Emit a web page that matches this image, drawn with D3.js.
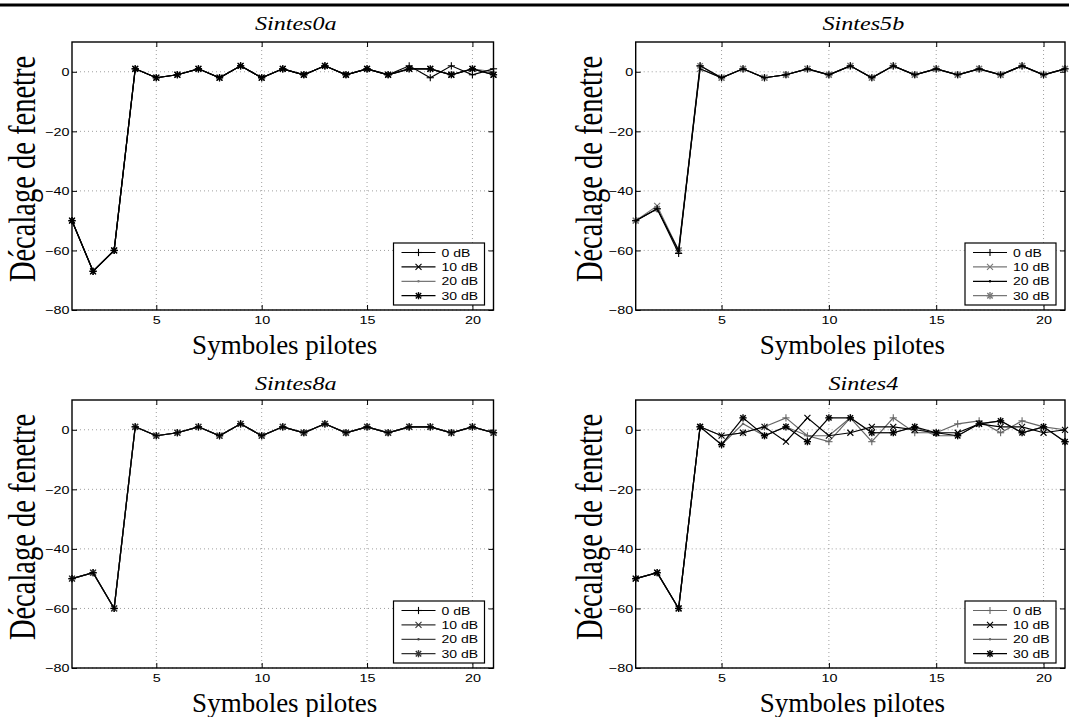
<!DOCTYPE html>
<html>
<head>
<meta charset="utf-8">
<script src="https://cdn.jsdelivr.net/npm/d3@7"></script>
<style>
  body { margin: 0; background: #fff; }
  svg { display: block; }
  .tick text { font-family: "Liberation Sans", Arial, sans-serif; font-size: 11.5px; fill: #000; }
  .axis path, .axis line { stroke: #000; }
</style>
</head>
<body>
<div id="chart"></div>
<script>
// symbol index on the x axis
var symbols = [1, 2, 3, 4, 5, 6, 7, 8, 9, 10, 11, 12, 13, 14, 15, 16, 17, 18, 19, 20, 21];
var snrLabels = ["0 dB", "10 dB", "20 dB", "30 dB"];
var xTicks = [5, 10, 15, 20];
var yTicks = [-80, -60, -40, -20, 0];
var panelNames = ["Sintes0a", "Sintes5b", "Sintes8a", "Sintes4"];

// window offset per SNR (0, 10, 20, 30 dB)
var sintes0a = [
  [-50, -67, -60, 1, -2, -1, 1, -2, 2, -2, 1, -1, 2, -1, 1, -1, 2, -2, 2, -1, 1],
  [-50, -67, -60, 1, -2, -1, 1, -2, 2, -2, 1, -1, 2, -1, 1, -1, 1, 1, -1, 1, -1],
  [-50, -67, -60, 1, -2, -1, 1, -2, 2, -2, 1, -1, 2, -1, 1, -1, 1, 1, -1, 1, 0],
  [-50, -67, -60, 1, -2, -1, 1, -2, 2, -2, 1, -1, 2, -1, 1, -1, 1, 1, -1, 1, -1]
];
var sintes5b = [
  [-50, -46, -61, 2, -2, 1, -2, -1, 1, -1, 2, -2, 2, -1, 1, -1, 1, -1, 2, -1, 1],
  [-50, -45, -60, 1, -2, 1, -2, -1, 1, -1, 2, -2, 2, -1, 1, -1, 1, -1, 2, -1, 1],
  [-50, -46, -60, 1, -2, 1, -2, -1, 1, -1, 2, -2, 2, -1, 1, -1, 1, -1, 2, -1, 1],
  [-50, -46, -60, 2, -2, 1, -2, -1, 1, -1, 2, -2, 2, -1, 1, -1, 1, -1, 2, -1, 1]
];
var sintes8a = [
  [-50, -48, -60, 1, -2, -1, 1, -2, 2, -2, 1, -1, 2, -1, 1, -1, 1, 1, -1, 1, -1],
  [-50, -48, -60, 1, -2, -1, 1, -2, 2, -2, 1, -1, 2, -1, 1, -1, 1, 1, -1, 1, -1],
  [-50, -48, -60, 1, -2, -1, 1, -2, 2, -2, 1, -1, 2, -1, 1, -1, 1, 1, -1, 1, -1],
  [-50, -48, -60, 1, -2, -1, 1, -2, 2, -2, 1, -1, 2, -1, 1, -1, 1, 1, -1, 1, -1]
];
var sintes4 = [
  [-50, -48, -60, 1, -2, -1, 1, 4, -2, -4, 4, -4, 4, -1, -1, 2, 3, -1, 3, 1, -4],
  [-50, -48, -60, 1, -2, -1, 1, -4, 4, -2, -1, 1, 1, 0, -1, -1, 2, 1, 1, -1, 0],
  [-50, -48, -60, 1, -5, 2, -2, 1, -2, -2, 4, -1, -1, 1, -2, -2, 2, 3, -1, 1, 0],
  [-50, -48, -60, 1, -5, 4, -2, 1, -4, 4, 4, -1, -1, 1, -1, -2, 2, 3, -1, 1, -4]
];
var panelData = [sintes0a, sintes5b, sintes8a, sintes4];

// line colour of each series, per panel
var panelColors = [
  ["#000", "#000", "#777", "#000"],
  ["#000", "#777", "#000", "#777"],
  ["#000", "#333", "#444", "#333"],
  ["#666", "#000", "#666", "#000"]
];
var markers = ["plus", "cross", "dot", "star"];

var W = 1069, H = 717;
var panelBoxes = [
  {left: 72, top: 42, right: 493.5},
  {left: 635.7, top: 42, right: 1065},
  {left: 72, top: 400, right: 493.5},
  {left: 635.7, top: 400, right: 1065}
];
var plotH = 268;
var stretch = 1.25;

var svg = d3.select("#chart").append("svg")
  .attr("width", W).attr("height", H);

svg.append("line")
  .attr("x1", 0).attr("x2", W).attr("y1", 5).attr("y2", 5)
  .attr("stroke", "#000").attr("stroke-width", 3);

function drawMarker(g, type, cx, cy, color) {
  var s = 3.6;
  var m = g.append("g").attr("transform", "translate(" + cx + "," + cy + ")")
    .attr("stroke", color).attr("stroke-width", type == "star" ? 1.4 : 1.1).attr("fill", "none");
  if (type == "plus" || type == "star") {
    m.append("line").attr("x1", -s).attr("x2", s).attr("y1", 0).attr("y2", 0);
    m.append("line").attr("x1", 0).attr("x2", 0).attr("y1", -s).attr("y2", s);
  }
  if (type == "cross" || type == "star") {
    var c = type == "star" ? 2.7 : 3;
    m.append("line").attr("x1", -c).attr("x2", c).attr("y1", -c).attr("y2", c);
    m.append("line").attr("x1", -c).attr("x2", c).attr("y1", c).attr("y2", -c);
  }
  if (type == "dot") {
    m.append("circle").attr("r", 1.2).attr("fill", color).attr("stroke", "none");
  }
}

panelBoxes.forEach(function(box, p) {
  var w = box.right - box.left;
  var x = d3.scaleLinear().domain([1, 21]).range([0, w]);
  var y = d3.scaleLinear().domain([-80, 10]).range([plotH, 0]);

  var chart = svg.append("g")
    .attr("transform", "translate(" + box.left + "," + box.top + ")");

  // grid
  chart.selectAll(".vgrid").data(xTicks).enter().append("line")
    .attr("x1", function(d) { return x(d); }).attr("x2", function(d) { return x(d); })
    .attr("y1", 0).attr("y2", plotH)
    .attr("stroke", "#888").attr("stroke-width", 0.8).attr("stroke-dasharray", "1,3");
  chart.selectAll(".hgrid").data(yTicks).enter().append("line")
    .attr("x1", 0).attr("x2", w)
    .attr("y1", function(d) { return y(d); }).attr("y2", function(d) { return y(d); })
    .attr("stroke", "#888").attr("stroke-width", 0.8).attr("stroke-dasharray", "1,3");

  // series: grey ones underneath, black ones on top
  var line = d3.line()
    .x(function(d, i) { return x(symbols[i]); })
    .y(function(d) { return y(d); });
  var series = panelData[p];
  var order = [0, 1, 2, 3].sort(function(a, b) {
    return (panelColors[p][a] == "#000") - (panelColors[p][b] == "#000") || a - b;
  });
  order.forEach(function(k) {
    var vals = series[k];
    var col = panelColors[p][k];
    chart.append("path").datum(vals)
      .attr("d", line).attr("fill", "none")
      .attr("stroke", col).attr("stroke-width", 1.2);
    var mg = chart.append("g");
    vals.forEach(function(v, i) {
      drawMarker(mg, markers[k], x(symbols[i]), y(v), col);
    });
  });

  // axes with inward ticks
  var xAxis = d3.axisBottom(x).tickValues(xTicks).tickSizeInner(-5).tickSizeOuter(0).tickPadding(6);
  var gx = chart.append("g").attr("class", "axis")
    .attr("transform", "translate(0," + plotH + ")").call(xAxis);
  gx.select(".domain").remove();
  gx.selectAll("text").attr("transform", "scale(" + stretch + ",1)");

  var xTop = d3.axisTop(x).tickValues(xTicks).tickSizeInner(-5).tickSizeOuter(0).tickFormat("");
  chart.append("g").attr("class", "axis").call(xTop).select(".domain").remove();

  var yAxis = d3.axisLeft(y).tickValues(yTicks).tickSizeInner(-5).tickSizeOuter(0).tickPadding(2)
    .tickFormat(function(d) { return d < 0 ? "\u2212" + Math.abs(d) : d; });
  var gy = chart.append("g").attr("class", "axis").call(yAxis);
  gy.select(".domain").remove();
  gy.selectAll("text").attr("transform", "scale(" + stretch + ",1)");

  var yRight = d3.axisRight(y).tickValues(yTicks).tickSizeInner(-5).tickSizeOuter(0).tickFormat("");
  chart.append("g").attr("class", "axis").attr("transform", "translate(" + w + ",0)")
    .call(yRight).select(".domain").remove();

  chart.append("rect")
    .attr("x", 0).attr("y", 0).attr("width", w).attr("height", plotH)
    .attr("fill", "none").attr("stroke", "#000").attr("stroke-width", 1.4);

  // title
  chart.append("text")
    .attr("transform", "translate(" + (w / 2 + 13) + "," + (p < 2 ? -12 : -10) + ") scale(1.27,1)")
    .attr("text-anchor", "middle")
    .style("font-family", "'Liberation Serif', 'Times New Roman', serif")
    .style("font-style", "italic").style("font-size", "19px")
    .text(panelNames[p]);

  // axis titles
  chart.append("text")
    .attr("x", w / 2 + 2).attr("y", plotH + 44)
    .attr("text-anchor", "middle")
    .style("font-family", "'Liberation Serif', 'Times New Roman', serif")
    .style("font-size", "27px")
    .text("Symboles pilotes");

  chart.append("text")
    .attr("transform", "translate(" + (p % 2 == 0 ? -37 : -34) + "," + 127 + ") rotate(-90) scale(1," + 1.3 + ")")
    .attr("text-anchor", "middle")
    .style("font-family", "'Liberation Serif', 'Times New Roman', serif")
    .style("font-size", "28.5px")
    .text("D\u00e9calage de fenetre");

  // legend
  var lw = 91, lh = 62;
  var legend = chart.append("g")
    .attr("transform", "translate(" + (w - 9 - lw) + "," + (plotH - 5 - lh) + ")");
  legend.append("rect").attr("width", lw).attr("height", lh)
    .attr("fill", "#fff").attr("stroke", "#000").attr("stroke-width", 1.2);
  snrLabels.forEach(function(lab, k) {
    var ly = 9.5 + k * 14.4;
    var col = panelColors[p][k];
    legend.append("line").attr("x1", 8).attr("x2", 42).attr("y1", ly).attr("y2", ly)
      .attr("stroke", col).attr("stroke-width", 1.2);
    drawMarker(legend, markers[k], 25, ly, col);
    legend.append("text")
      .attr("transform", "translate(48," + (ly + 4) + ") scale(1.22,1)")
      .style("font-family", "'Liberation Sans', Arial, sans-serif")
      .style("font-size", "11.5px")
      .text(lab);
  });
});
</script>
</body>
</html>
